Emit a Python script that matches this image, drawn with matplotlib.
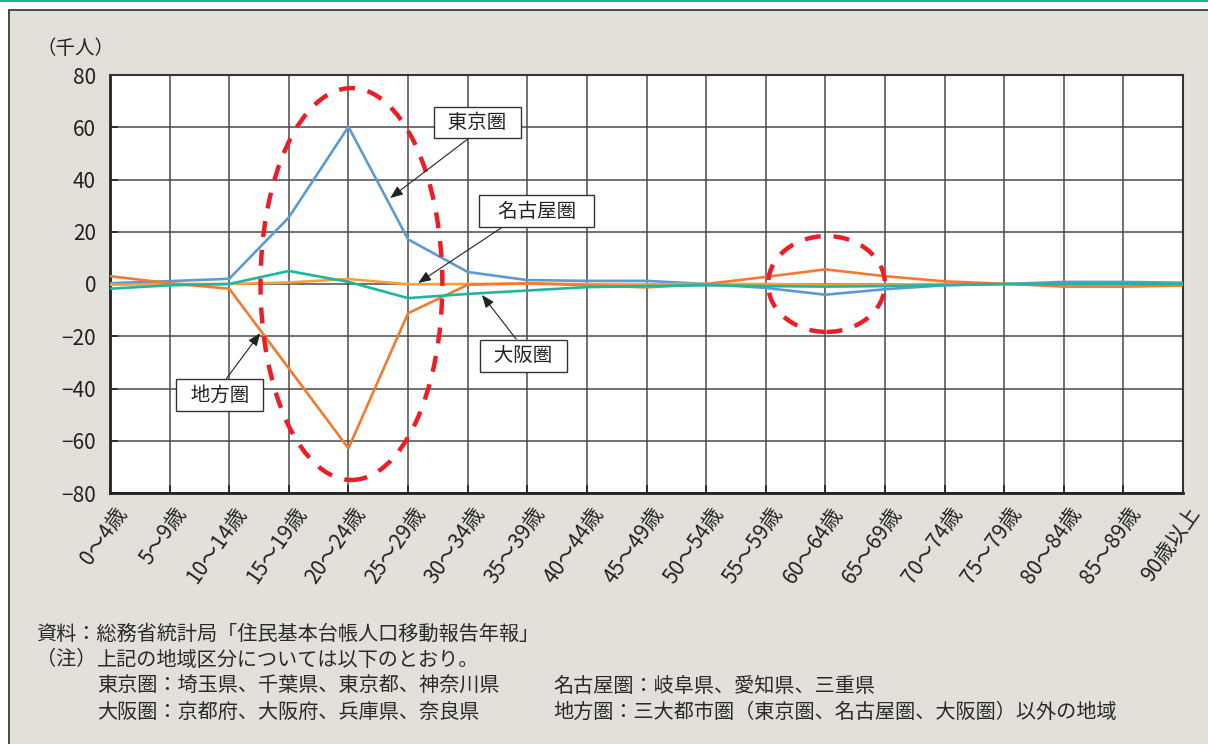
import matplotlib
matplotlib.use("Agg")
import matplotlib.pyplot as plt
from matplotlib.patches import Ellipse, Rectangle
from matplotlib.transforms import ScaledTranslation

plt.rcParams['font.family'] = ['Noto Sans CJK JP', 'DejaVu Sans']

# 年齢階級別の転入超過数（千人）
ages = ['0～4歳', '5～9歳', '10～14歳', '15～19歳', '20～24歳', '25～29歳', '30～34歳',
        '35～39歳', '40～44歳', '45～49歳', '50～54歳', '55～59歳', '60～64歳',
        '65～69歳', '70～74歳', '75～79歳', '80～84歳', '85～89歳', '90歳以上']
tokyo = [0.3, 1.1, 2.0, 25.5, 60.2, 17.1, 4.6, 1.5, 1.2, 1.2, 0.0, -1.5, -4.1,
         -2.0, -0.5, 0.0, 0.8, 0.8, 0.5]
nagoya = [-0.3, 0.0, 0.0, 0.6, 1.9, -0.1, 0.0, 0.1, 0.0, -0.1, 0.0, 0.0, -0.3,
          -0.2, 0.0, 0.0, -0.1, -0.1, 0.0]
chiho = [3.0, 0.3, -1.8, -32.3, -62.9, -11.2, -0.3, 0.3, -0.5, -1.3, 0.0, 2.7, 5.6,
         3.0, 1.0, 0.1, -1.0, -1.0, -0.6]
osaka = [-1.8, -0.5, 0.0, 5.0, 0.8, -5.4, -3.8, -2.5, -1.2, -0.8, -0.5, -0.8, -1.0,
         -0.8, -0.4, 0.0, 0.0, 0.1, 0.1]
yticks = [-80, -60, -40, -20, 0, 20, 40, 60, 80]

notes = [
    (36, 634, '資料：総務省統計局「住民基本台帳人口移動報告年報」'),
    (36, 660, '（注）'),
    (97, 660, '上記の地域区分については以下のとおり。'),
    (97, 686, '東京圏：埼玉県、千葉県、東京都、神奈川県'),
    (553, 686, '名古屋圏：岐阜県、愛知県、三重県'),
    (97, 712, '大阪圏：京都府、大阪府、兵庫県、奈良県'),
    (553, 712, '地方圏：三大都市圏（東京圏、名古屋圏、大阪圏）以外の地域'),
]

W, H = 1208, 744
fig = plt.figure(figsize=(W / 100, H / 100), dpi=100, facecolor='white')

# 背景の枠と上端の緑線
fig.patches.append(Rectangle((9 / W, -0.02), 1.05, 1 - 9.5 / H + 0.02,
                             transform=fig.transFigure, fc='#e3e0da',
                             ec='#3c3c3c', lw=1.3, zorder=-2))
fig.patches.append(Rectangle((0, 1 - 2.2 / H), 1, 2.2 / H,
                             transform=fig.transFigure, fc='#1db38a',
                             ec='none', zorder=-2))

ax = fig.add_axes([110 / W, 1 - 493 / H, (1183 - 110) / W, (493 - 75) / H])
ax.set_zorder(1)
ax.set_facecolor('white')

x = range(len(ages))
ax.plot(x, tokyo, color='#5b9bd5', lw=1.9, zorder=3)
ax.plot(x, nagoya, color='#f7a13a', lw=1.9, zorder=3)
ax.plot(x, chiho, color='#f37a2f', lw=1.9, zorder=3)
ax.plot(x, osaka, color='#1fb5a0', lw=1.9, zorder=3)

ax.set_xlim(0, len(ages) - 1)
ax.set_ylim(-80, 80)
ax.set_yticks(yticks)
ax.set_xticks(list(x))
ax.grid(True, color='#4a4a4a', lw=1.1, zorder=1)
ax.set_axisbelow(True)

ax.tick_params(axis='y', direction='in', length=6, width=1.2, pad=10,
               labelsize=15, colors='#222222')
ax.tick_params(axis='x', direction='in', length=6, width=1.2, pad=12,
               labelsize=15, colors='#222222')
ax.set_xticklabels(ages, rotation=55, ha='right', va='center',
                   rotation_mode='anchor')
shift = ScaledTranslation(13 / 100, 0, fig.dpi_scale_trans)
for lab in ax.get_xticklabels():
    lab.set_transform(lab.get_transform() + shift)

for side in ['left', 'bottom']:
    ax.spines[side].set_color('#222222')
    ax.spines[side].set_linewidth(2)
for side in ['top', 'right']:
    ax.spines[side].set_color('#333333')
    ax.spines[side].set_linewidth(1.5)

fig.text(36 / W, 1 - 48 / H, '（千人）', fontsize=14, va='center', color='#222222')

# 注目部分を囲む破線
for cx, w, h in [(4.05, 3.05, 150), (12.02, 1.96, 36.7)]:
    ax.add_patch(Ellipse((cx, 0), w, h, fill=False, ec='#ee1c25', lw=3.2,
                         ls=(0, (3.6, 2.9)), zorder=5))

# 系列名の注記
box = dict(boxstyle='square,pad=0.28', fc='white', ec='#333333', lw=1)


def label(name, xy, xytext, relpos):
    ax.annotate(name, xy=xy, xytext=xytext, ha='center', va='center',
                fontsize=14, color='#222222', bbox=box, zorder=6,
                arrowprops=dict(arrowstyle='-|>,head_length=0.55,head_width=0.22',
                                color='#222222', lw=0.8, relpos=relpos,
                                shrinkA=0, shrinkB=0))


label('  東京圏  ', (4.70, 32.9), (6.16, 61.8), (0.48, 0))
label('   名古屋圏   ', (5.17, 0.4), (7.16, 27.9), (0.25, 0))
label('  大阪圏  ', (6.24, -4.2), (6.93, -27.4), (0.47, 1))
label('  地方圏  ', (2.52, -18.8), (1.84, -42.5), (0.53, 1))

for px, py, s in notes:
    fig.text(px / W, 1 - py / H, s, fontsize=14.5, va='center', color='#2a2a2a')

fig.savefig('out.png', dpi=100, facecolor=fig.get_facecolor())
